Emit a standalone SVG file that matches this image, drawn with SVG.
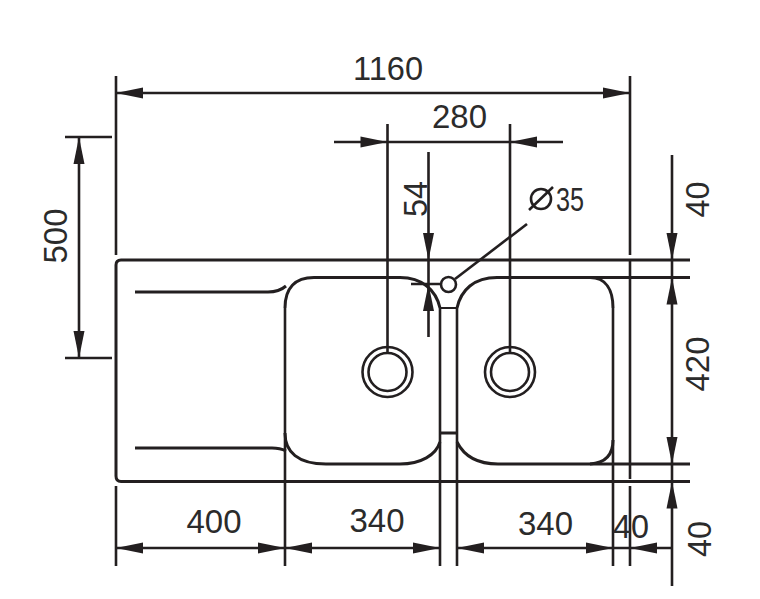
<svg xmlns="http://www.w3.org/2000/svg" width="760" height="599" viewBox="0 0 760 599">
<defs>
<style>
.l{fill:none;stroke:#231f20;stroke-width:2.6}
.t{fill:none;stroke:#231f20;stroke-width:2}
.h{fill:none;stroke:#231f20;stroke-width:3}
.a{fill:#231f20}
text{font-family:"Liberation Sans",Arial,sans-serif;font-size:33px;fill:#2b2b2b;text-anchor:middle}
</style>
<path id="ar" class="a" d="M0 0L-27 -5.500V5.500Z"/>
</defs>
<rect width="760" height="599" fill="#fff"/>
<g id="sink">
<path class="h" d="M690 260H121Q116 260 116 265V476Q116 481.500 121 481.500H690"/>
<path class="h" d="M135 292H268Q279 292 286 286"/>
<path class="h" d="M285 308C285 288 295 277.500 314 277.500H400C422 277.500 436 290 440 308"/>
<path class="h" d="M135 448H272Q280 448 286 451"/>
<path class="h" d="M285 433C285 452 298 464 326 464H400C421 464 436 455 440 442"/>
<path class="h" d="M457 308C461 290 474 277.500 497 277.500H590"/>
<path class="h" d="M590 277.500H690"/>
<path class="h" d="M590 277.500C606 277.500 613 290 613 308"/>
<path class="h" d="M457 442C464 456 478 464 498 464H590"/>
<path class="h" d="M590 464H690"/>
<path class="h" d="M590 464C606 463 613 455 613 440"/>
<path class="t" d="M440 308H457"/>
<path class="h" d="M440 433H457"/>
</g>
<g id="drain-left"><circle class="l" cx="387.500" cy="372" r="25"/><circle class="l" cx="387.500" cy="372" r="19"/></g>
<g id="drain-right"><circle class="l" cx="510" cy="372" r="25"/><circle class="l" cx="510" cy="372" r="19"/></g>
<g id="tap-hole"><circle class="l" cx="448.500" cy="284.500" r="7.500" fill="#fff"/></g>
<g id="connectors">
<path class="l" d="M116 76V255M116 486V566M630 76V255M630 261V479M630 486V566M285 308V566M440 308V566M457 308V566M613 308V566"/>
<path class="l" d="M116 93H630"/>
<path class="l" d="M65 137H112M65 358H112M79 137V358"/>
<path class="l" d="M334 142H563M387.500 124V353M510 124V353"/>
<path class="l" d="M428.500 152V284M411 284H440M428.500 284V337"/>
<path class="l" d="M455 279L527 224"/>
<path class="l" d="M672 155V586"/>
<path class="l" d="M116 548H285M285 548H440M457 548H613M613 548H672"/>
<circle class="l" cx="541" cy="199" r="10"/>
<path class="l" d="M529 210L553 187"/>
<use href="#ar" transform="translate(116 93) rotate(180)"/>
<use href="#ar" transform="translate(630 93)"/>
<use href="#ar" transform="translate(79 137) rotate(-90)"/>
<use href="#ar" transform="translate(79 358) rotate(90)"/>
<use href="#ar" transform="translate(387.500 142)"/>
<use href="#ar" transform="translate(510 142) rotate(180)"/>
<use href="#ar" transform="translate(428.500 260) rotate(90)"/>
<use href="#ar" transform="translate(428.500 284) rotate(-90)"/>
<use href="#ar" transform="translate(672 260) rotate(90)"/>
<use href="#ar" transform="translate(672 277.500) rotate(-90)"/>
<use href="#ar" transform="translate(672 464) rotate(90)"/>
<use href="#ar" transform="translate(672 481.500) rotate(-90)"/>
<use href="#ar" transform="translate(116 548) rotate(180)"/>
<use href="#ar" transform="translate(285 548)"/>
<use href="#ar" transform="translate(285 548) rotate(180)"/>
<use href="#ar" transform="translate(440 548)"/>
<use href="#ar" transform="translate(457 548) rotate(180)"/>
<use href="#ar" transform="translate(613 548)"/>
<use href="#ar" transform="translate(630 548) rotate(180)"/>
</g>
<g id="labels">
<text x="388" y="80" textLength="70" lengthAdjust="spacingAndGlyphs">1160</text>
<text x="459.500" y="128" textLength="55" lengthAdjust="spacingAndGlyphs">280</text>
<text x="214" y="533" textLength="55" lengthAdjust="spacingAndGlyphs">400</text>
<text x="377" y="532" textLength="55" lengthAdjust="spacingAndGlyphs">340</text>
<text x="545.500" y="535" textLength="55" lengthAdjust="spacingAndGlyphs">340</text>
<text x="631" y="538" textLength="36" lengthAdjust="spacingAndGlyphs">40</text>
<text transform="translate(67 236) rotate(-90)" textLength="55" lengthAdjust="spacingAndGlyphs">500</text>
<text transform="translate(427 199) rotate(-90)" textLength="36" lengthAdjust="spacingAndGlyphs">54</text>
<text transform="translate(709 199.500) rotate(-90)" textLength="36" lengthAdjust="spacingAndGlyphs">40</text>
<text transform="translate(709 364) rotate(-90)" textLength="55" lengthAdjust="spacingAndGlyphs">420</text>
<text transform="translate(711 539) rotate(-90)" textLength="36" lengthAdjust="spacingAndGlyphs">40</text>
<text x="570" y="211" textLength="28" lengthAdjust="spacingAndGlyphs">35</text>
</g>
</svg>
